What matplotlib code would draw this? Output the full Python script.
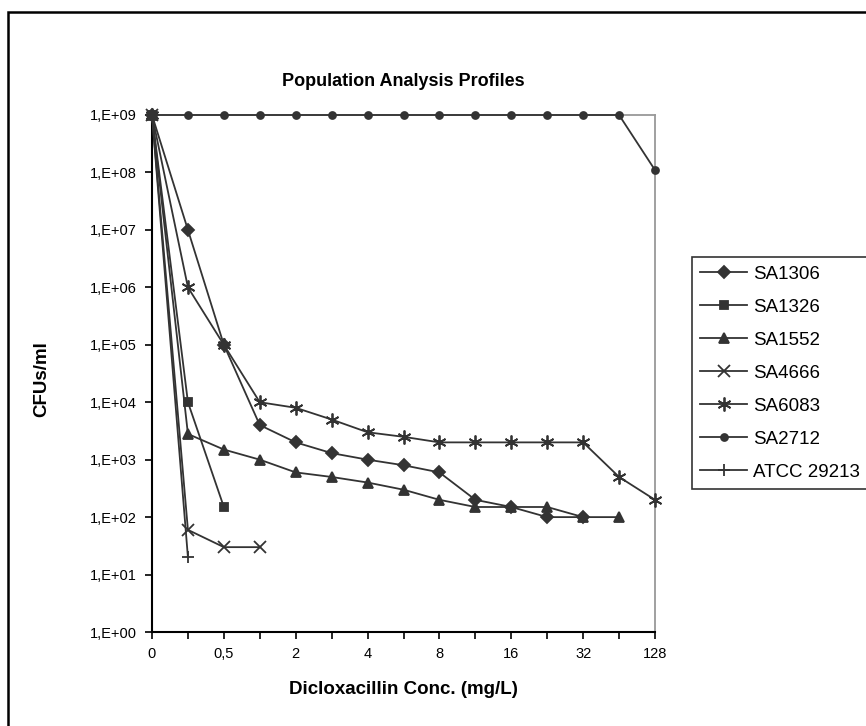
import numpy as np
import matplotlib.pyplot as plt
from matplotlib.patches import Rectangle

plt.rcParams['font.family'] = ['Liberation Sans', 'DejaVu Sans']

# categories on the x axis (only every other one gets a label)
conc_labels = ["0", "", "0,5", "", "2", "", "4", "", "8", "", "16", "", "32", "", "128"]

# CFUs/ml, None = no point
sa1306 = [1e9, 1e7, 1e5, 4e3, 2e3, 1.3e3, 1e3, 8e2, 6e2, 2e2, 1.5e2, 1e2, 1e2, None, None]
sa1326 = [1e9, 1e4, 1.5e2] + [None] * 12
sa1552 = [1e9, 2.8e3, 1.5e3, 1e3, 6e2, 5e2, 4e2, 3e2, 2e2, 1.5e2, 1.5e2, 1.5e2, 1e2, 1e2, None]
sa4666 = [1e9, 60, 30, 30] + [None] * 11
sa6083 = [1e9, 1e6, 1e5, 1e4, 8e3, 5e3, 3e3, 2.5e3, 2e3, 2e3, 2e3, 2e3, 2e3, 5e2, 2e2]
sa2712 = [1e9] * 14 + [1.1e8]
atcc = [1e9, 20] + [None] * 13

series = [
    ("SA1306", sa1306, "D", 6),
    ("SA1326", sa1326, "s", 6),
    ("SA1552", sa1552, "^", 7),
    ("SA4666", sa4666, "x", 8),
    ("SA6083", sa6083, (6, 2, 0), 10),
    ("SA2712", sa2712, "o", 5),
    ("ATCC 29213", atcc, "+", 9),
]

col = "#333333"

fig = plt.figure(figsize=(8.66, 7.26), dpi=100)
ax = fig.add_axes([152 / 866, 94 / 726, 503 / 866, 517 / 726])

x = np.arange(len(conc_labels))
for name, vals, mk, ms in series:
    y = np.array([np.nan if v is None else v for v in vals], dtype=float)
    ax.plot(x, y, color=col, lw=1.3, marker=mk, markersize=ms,
            markerfacecolor=col, markeredgecolor=col, markeredgewidth=1.3,
            label=name, clip_on=False, zorder=3)

ax.set_yscale("log")
ax.set_ylim(1, 1e9)
ax.set_xlim(0, len(conc_labels) - 1)
yt = [10.0 ** k for k in range(10)]
ax.set_yticks(yt)
ax.set_yticklabels(["1,E+%02d" % k for k in range(10)])
ax.yaxis.set_minor_locator(plt.NullLocator())
ax.set_xticks(x)
ax.set_xticklabels(conc_labels)
ax.tick_params(axis="both", labelsize=10.5, color="black", length=5, width=1.2, pad=6)

for s in ["left", "bottom"]:
    ax.spines[s].set_color("black")
    ax.spines[s].set_linewidth(1.5)
for s in ["top", "right"]:
    ax.spines[s].set_color("#999999")
    ax.spines[s].set_linewidth(1.3)

ax.set_xlabel("Dicloxacillin Conc. (mg/L)", fontsize=13.5, fontweight="bold")
ax.xaxis.set_label_coords(0.5, -0.112)
ax.xaxis.label.set_va("center")
ax.set_ylabel("CFUs/ml", fontsize=13.5, fontweight="bold")
ax.yaxis.set_label_coords(-0.22, 0.49)
ax.yaxis.label.set_va("center")
fig.text(403 / 866, 1 - 81 / 726, "Population Analysis Profiles", ha="center", va="center",
         fontsize=13, fontweight="bold")

leg = fig.legend(loc="upper left", bbox_to_anchor=(692 / 866, 1 - 257 / 726), fontsize=13.5,
                 frameon=True, fancybox=False, edgecolor="black", handlelength=2.5,
                 labelspacing=0.85, borderpad=0.45, handletextpad=0.3, borderaxespad=0)
leg.get_frame().set_linewidth(1.2)

# outer chart border
fig.patches.append(Rectangle((8 / 866, -0.1), 1.2, 1 - 12 / 726 + 0.1, transform=fig.transFigure,
                             fill=False, edgecolor="black", linewidth=1.8))

fig.savefig("out.png", dpi=100)
